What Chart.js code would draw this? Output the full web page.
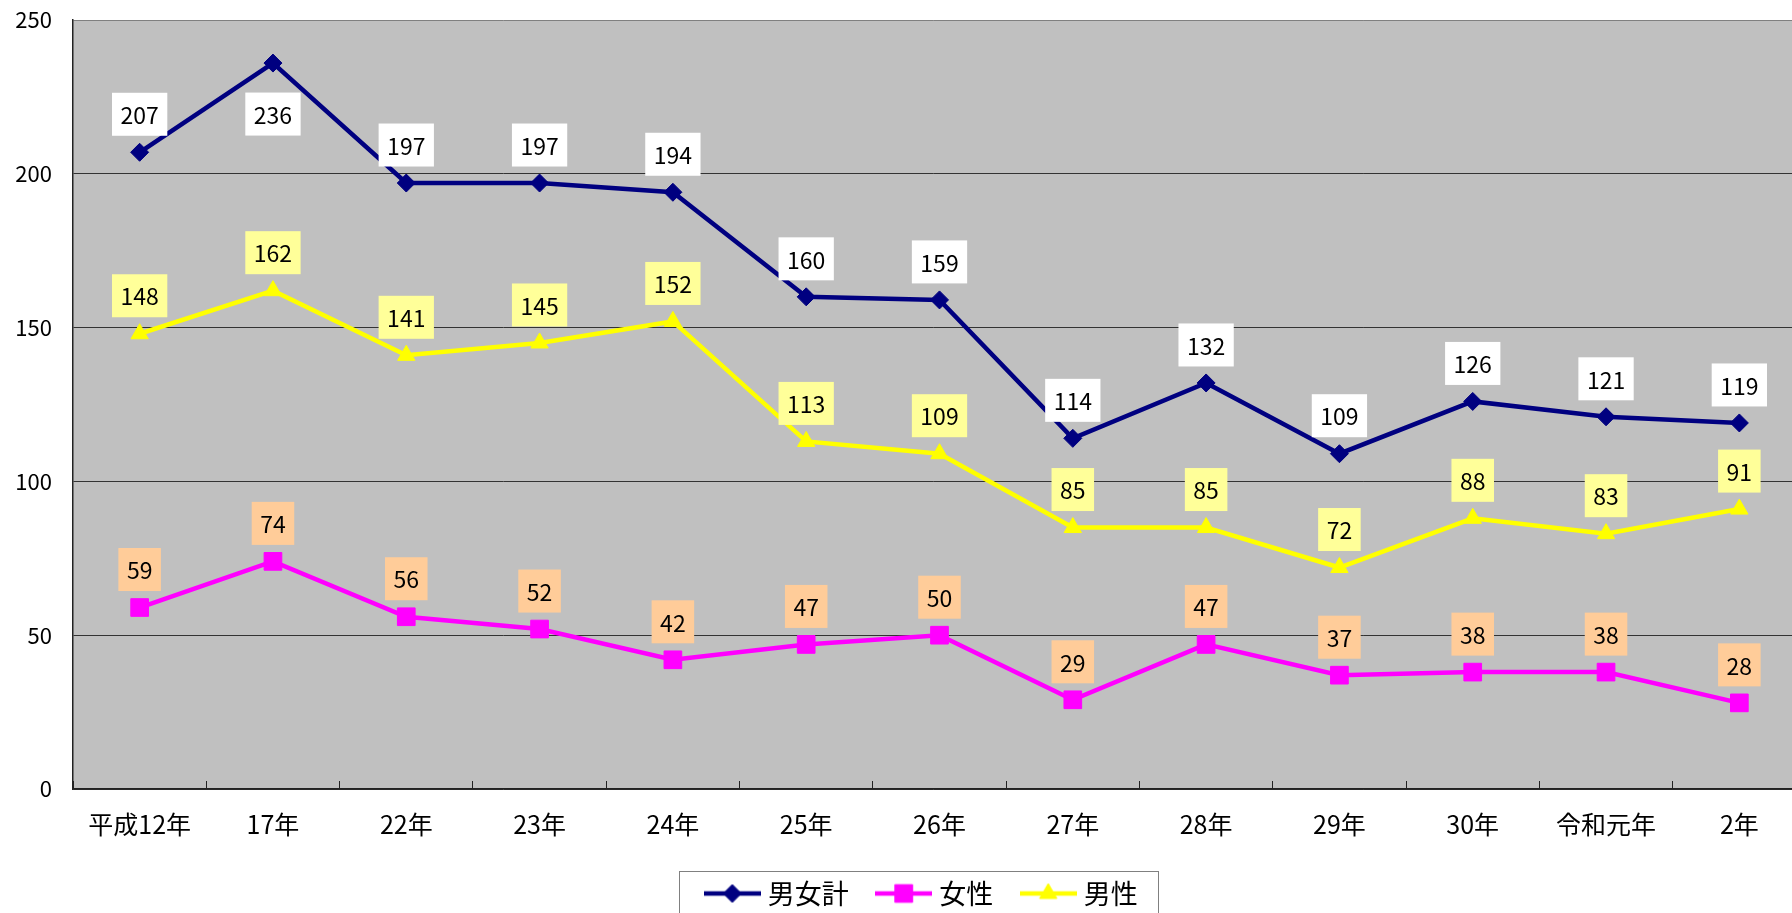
<!DOCTYPE html>
<html lang="ja">
<head>
    <meta charset="UTF-8">
    <title>男女計・女性・男性の推移</title>
    <script src="https://cdn.jsdelivr.net/npm/chart.js@4"></script>
    <style>
        html, body { margin: 0; padding: 0; overflow: hidden; background: #fff; }
    </style>
</head>
<body>
<canvas id="myChart" width="1792" height="913"></canvas>

<script>
// データ
const categories = ['平成12年', '17年', '22年', '23年', '24年', '25年', '26年', '27年', '28年', '29年', '30年', '令和元年', '2年'];
const totalValues = [207, 236, 197, 197, 194, 160, 159, 114, 132, 109, 126, 121, 119];
const femaleValues = [59, 74, 56, 52, 42, 47, 50, 29, 47, 37, 38, 38, 28];
const maleValues = [148, 162, 141, 145, 152, 113, 109, 85, 85, 72, 88, 83, 91];
const seriesNames = ['男女計', '女性', '男性'];
const yTicks = [0, 50, 100, 150, 200, 250];

const FONT = "'Noto Sans CJK JP', 'Noto Sans', sans-serif";

const styles = [
    { color: '#000080', pointStyle: 'rectRot', radius: 9, labelBg: '#FFFFFF' },
    { color: '#FF00FF', pointStyle: 'rect', radius: 12.5, labelBg: '#FFCC99' },
    { color: '#FFFF00', pointStyle: 'triangle', radius: 10, labelBg: '#FFFF99' }
];
// ラベルを点の下に置くもの（データセット番号: 点の番号）
const labelsBelow = { 0: [1] };

// 凡例用アイコン（線＋マーカー）
function makeIcon(st) {
    const c = document.createElement('canvas');
    c.width = 57; c.height = 26;
    const ctx = c.getContext('2d');
    ctx.strokeStyle = st.color;
    ctx.lineWidth = 4.5;
    ctx.beginPath();
    ctx.moveTo(0, 13); ctx.lineTo(57, 13);
    ctx.stroke();
    ctx.fillStyle = st.color;
    ctx.lineWidth = 1;
    Chart.helpers.drawPoint(ctx, { pointStyle: st.pointStyle, radius: st.radius, rotation: 0, borderWidth: 1 }, 28.5, 13);
    return c;
}
const icons = styles.map(makeIcon);

// 背景（灰色）
const plotBg = {
    id: 'plotBg',
    beforeDraw(chart) {
        const a = chart.chartArea, ctx = chart.ctx;
        ctx.save();
        ctx.fillStyle = '#C0C0C0';
        ctx.fillRect(a.left, a.top, a.right - a.left, a.bottom - a.top);
        ctx.restore();
    }
};

// 元図ではプロット領域が右端で切れているので、X軸を画面外まで伸ばす
const extendRight = {
    id: 'extendRight',
    afterLayout(chart) {
        const x = chart.scales.x;
        const right = chart.width + 14;
        chart.chartArea.right = right;
        chart.chartArea.width = right - chart.chartArea.left;
        x.right = right;
        x.width = right - x.left;
        x.configure();
        // 凡例の位置
        chart.legend.left += 28;
        chart.legend.right += 28;
        chart.legend.top += 4;
        chart.legend.bottom += 4;
    }
};

// データラベル（枠付き）
const boxLabels = {
    id: 'boxLabels',
    afterDatasetsDraw(chart) {
        const ctx = chart.ctx;
        ctx.save();
        ctx.font = '23px ' + FONT;
        ctx.textAlign = 'center';
        ctx.textBaseline = 'middle';
        chart.data.datasets.forEach((ds, di) => {
            const meta = chart.getDatasetMeta(di);
            meta.data.forEach((pt, i) => {
                const text = String(ds.data[i]);
                const w = ctx.measureText(text).width + 17;
                const h = 43;
                const below = (labelsBelow[di] || []).includes(i);
                const cy = below ? pt.y + 51 : pt.y - 38;
                ctx.fillStyle = styles[di].labelBg;
                ctx.fillRect(pt.x - w / 2, cy - h / 2, w, h);
                ctx.fillStyle = '#000';
                ctx.fillText(text, pt.x, cy + 1);
            });
        });
        ctx.restore();
    }
};

// 凡例の枠
const legendBox = {
    id: 'legendBox',
    afterDraw(chart) {
        const lg = chart.legend, ctx = chart.ctx;
        const P = lg.options.labels.padding;
        const rowW = lg.lineWidths[0];
        const start = (lg.left + P + lg.right - rowW) / 2;
        const end = start + rowW - P;
        const top = lg.top + P + 13.5 - 23;
        ctx.save();
        ctx.strokeStyle = '#808080';
        ctx.lineWidth = 1;
        ctx.strokeRect(Math.round(start - 31.5) + 0.5, Math.round(top) + 0.5, Math.round(end + 20 - (start - 31.5)), 80);
        ctx.restore();
    }
};

const data = {
    labels: categories,
    datasets: [totalValues, femaleValues, maleValues].map((vals, i) => ({
        label: seriesNames[i],
        data: vals,
        borderColor: styles[i].color,
        backgroundColor: styles[i].color,
        borderWidth: 4.5,
        pointStyle: styles[i].pointStyle,
        pointRadius: styles[i].radius,
        pointHoverRadius: styles[i].radius,
        pointBackgroundColor: styles[i].color,
        pointBorderColor: styles[i].color,
        pointBorderWidth: 1,
        tension: 0,
        fill: false
    }))
};

const config = {
    type: 'line',
    data: data,
    options: {
        responsive: false,
        animation: false,
        layout: { padding: { top: 20, left: 0, right: 0, bottom: 0 } },
        plugins: {
            tooltip: { enabled: false },
            legend: {
                position: 'bottom',
                labels: {
                    usePointStyle: true,
                    pointStyleWidth: 44,
                    padding: 33,
                    color: '#000',
                    font: { family: FONT, size: 27 },
                    generateLabels(chart) {
                        const items = Chart.defaults.plugins.legend.labels.generateLabels(chart);
                        items.forEach((it, i) => { it.pointStyle = icons[i]; it.fontColor = '#000'; });
                        return items;
                    }
                }
            }
        },
        scales: {
            x: {
                offset: true,
                grid: {
                    offset: true,
                    drawOnChartArea: false,
                    drawTicks: true,
                    tickLength: -8,
                    color: '#222',
                    lineWidth: 1
                },
                border: { color: '#222', width: 1.5 },
                ticks: {
                    autoSkip: false,
                    maxRotation: 0,
                    padding: 28,
                    color: '#000',
                    font: { family: FONT, size: 25 }
                },
                afterFit(scale) { scale.height = 54; }
            },
            y: {
                min: 0,
                max: 250,
                afterBuildTicks(scale) { scale.ticks = yTicks.map(v => ({ value: v })); },
                grid: {
                    drawTicks: true,
                    tickLength: 21,
                    tickColor: 'rgba(0,0,0,0)',
                    color: ctx => (ctx.tick && ctx.tick.value === 250) ? '#808080' : '#333',
                    lineWidth: 1
                },
                border: { color: '#222', width: 1.5 },
                ticks: {
                    padding: 0,
                    color: '#000',
                    font: { family: FONT, size: 22 }
                },
                afterFit(scale) { scale.width = 73; }
            }
        }
    },
    plugins: [plotBg, extendRight, boxLabels, legendBox]
};

const myChart = new Chart(document.getElementById('myChart'), config);
</script>
</body>
</html>
